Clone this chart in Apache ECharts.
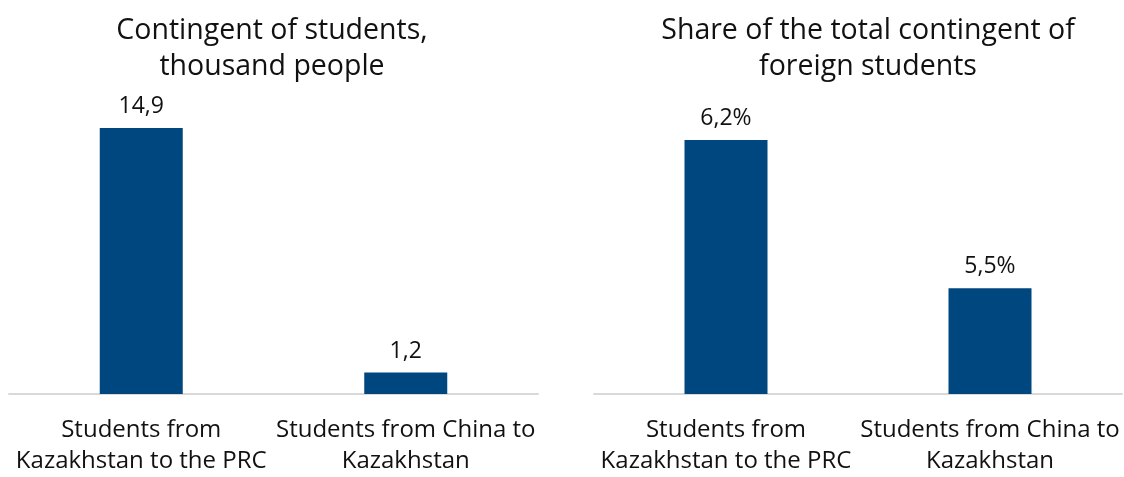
<!DOCTYPE html>
<html>
<head>
<meta charset="utf-8">
<script src="https://cdn.jsdelivr.net/npm/echarts@6/dist/echarts.min.js"></script>
<style>
  html, body { margin: 0; padding: 0; background: #ffffff; }
  #chart { width: 1124px; height: 477px; }
</style>
</head>
<body>
<div id="chart"></div>
<script>
  // categories shared by both panels
  var categories = ['Students from\nKazakhstan to the PRC', 'Students from China to\nKazakhstan'];
  // left panel: thousand people
  var contingent = [14.9, 1.2];
  // right panel: share of foreign students, %
  var share = [6.2, 5.5];

  var barColor = '#00467f';
  var font = '"Open Sans", "Noto Sans", sans-serif';

  function comma(v) {
    return String(v).replace('.', ',');
  }

  var myChart = echarts.init(document.getElementById('chart'));
  myChart.setOption({
    animation: false,
    textStyle: { fontFamily: font },
    title: [{
      text: 'Contingent of students,\nthousand people',
      left: 267,
      top: 8,
      textAlign: 'center',
      textStyle: { fontFamily: font, fontSize: 28.5, fontWeight: 'normal', color: '#111', lineHeight: 36 }
    }, {
      text: 'Share of the total contingent of\nforeign students',
      left: 863,
      top: 8,
      textAlign: 'center',
      textStyle: { fontFamily: font, fontSize: 28.5, fontWeight: 'normal', color: '#111', lineHeight: 36 }
    }],
    grid: [
      { left: 9, width: 529, top: 128, bottom: 80 },
      { left: 594, right: 2, top: 140, bottom: 78 }
    ],
    xAxis: [0, 1].map(function (i) {
      return {
        type: 'category',
        gridIndex: i,
        data: categories,
        axisLine: { lineStyle: { color: '#d9d9d9', width: 2 } },
        axisTick: { show: false },
        axisLabel: {
          interval: 0,
          margin: 21,
          fontFamily: font,
          fontSize: 24,
          lineHeight: 31,
          color: '#111'
        }
      };
    }),
    yAxis: [
      { type: 'value', gridIndex: 0, min: 0, max: 14.9, show: false, splitLine: { show: false } },
      { type: 'value', gridIndex: 1, min: 5, max: 6.2, show: false, splitLine: { show: false } }
    ],
    series: [{
      type: 'bar',
      xAxisIndex: 0,
      yAxisIndex: 0,
      data: contingent,
      barWidth: 83,
      itemStyle: { color: barColor },
      label: {
        show: true,
        position: 'top',
        distance: 10,
        fontFamily: font,
        fontSize: 23,
        color: '#111',
        formatter: function (p) { return comma(p.value); }
      }
    }, {
      type: 'bar',
      xAxisIndex: 1,
      yAxisIndex: 1,
      data: share,
      barWidth: 83,
      itemStyle: { color: barColor },
      label: {
        show: true,
        position: 'top',
        distance: 10,
        fontFamily: font,
        fontSize: 23,
        color: '#111',
        formatter: function (p) { return comma(p.value) + '%'; }
      }
    }]
  });
</script>
</body>
</html>
